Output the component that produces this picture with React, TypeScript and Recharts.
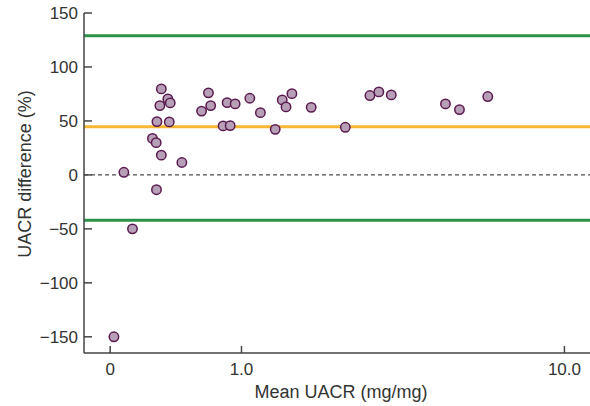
import React from "react";
import { ScatterChart, Scatter, XAxis, YAxis, ReferenceLine } from "recharts";

// mean UACR (mg/mg) and % difference for each sample
const meanUacr = [
  0.02, 0.075, 0.125, 0.25, 0.275, 0.277, 0.28, 0.3, 0.31, 0.31, 0.356, 0.366,
  0.373, 0.46, 0.62, 0.68, 0.7, 0.815, 0.854, 0.884, 0.934, 1.09, 1.21, 1.39,
  1.48, 1.53, 1.61, 1.89, 2.46, 2.94, 3.13, 3.41, 4.87, 5.32, 6.34,
];
const uacrDiff = [
  -150, 2.4, -50, 33.8, 29.9, -13.7, 49.4, 64.2, 18.3, 79.7, 70.4, 49.1, 66.7,
  11.5, 59.1, 76.0, 64.2, 45.4, 67.0, 45.7, 65.8, 71.0, 57.7, 42.2, 69.5, 63.0,
  75.3, 62.6, 44.1, 73.5, 76.9, 74.1, 65.8, 60.5, 72.6,
];

const xTickValues = [0, 1, 10];
const yTickValues = [-150, -100, -50, 0, 50, 100, 150];

const meanDiff = 44.5;
const upperLimit = 128.9;
const lowerLimit = -42.1;

// x axis is log10(1 + mean)
const toAxis = (v: number) => Math.log10(1 + v);

const data = meanUacr.map((m, i) => ({ t: toAxis(m), diff: uacrDiff[i] }));

const AXIS = "#444";
const FONT = "'Liberation Sans', Arial, sans-serif";

const XTick = (props: any) => {
  const { x, y, payload } = props;
  const m = Math.pow(10, payload.value) - 1;
  const label = m < 0.5 ? "0" : m.toFixed(1);
  return (
    <g>
      <line x1={x} x2={x} y1={y} y2={y - 7} stroke={AXIS} strokeWidth={1.5} />
      <text x={x} y={y + 22} textAnchor="middle" fill="#333" fontSize={17} fontFamily={FONT}>
        {label}
      </text>
    </g>
  );
};

const YTick = (props: any) => {
  const { x, y, payload } = props;
  const v = payload.value;
  const label = v < 0 ? "\u2212" + Math.abs(v) : String(v);
  return (
    <g>
      <line x1={x} x2={x + 8} y1={y} y2={y} stroke={AXIS} strokeWidth={1.5} />
      <text x={x - 6} y={y + 6} textAnchor="end" fill="#333" fontSize={17} fontFamily={FONT}>
        {label}
      </text>
    </g>
  );
};

const Dot = (props: any) => (
  <circle cx={props.cx} cy={props.cy} r={4.7} fill="#b79fb7" stroke="#5b1a4f" strokeWidth={1.5} />
);

export default function App() {
  return (
    <div style={{ position: "absolute", left: 0, top: 0 }}>
      <ScatterChart width={590} height={406} margin={{ top: 13, right: 0, bottom: 0, left: 0 }}>
        <XAxis
          type="number"
          dataKey="t"
          domain={[-0.06, 1.1]}
          allowDataOverflow
          ticks={xTickValues.map(toAxis)}
          interval={0}
          tick={<XTick />}
          tickLine={false}
          tickSize={0}
          tickMargin={0}
          height={53}
          axisLine={{ stroke: AXIS, strokeWidth: 1.5 }}
          label={{
            value: "Mean UACR (mg/mg)",
            position: "insideBottom",
            offset: 8,
            dx: 4,
            fill: "#333",
            fontSize: 18,
            fontFamily: FONT,
          }}
        />
        <YAxis
          type="number"
          dataKey="diff"
          domain={[-165, 150]}
          allowDataOverflow
          ticks={yTickValues}
          interval={0}
          tick={<YTick />}
          tickLine={false}
          tickSize={0}
          tickMargin={0}
          width={84}
          axisLine={{ stroke: AXIS, strokeWidth: 1.5 }}
          label={{
            content: () => (
              <text
                x={31}
                y={174}
                transform="rotate(-90 31 174)"
                textAnchor="middle"
                fill="#333"
                fontSize={18}
                fontFamily={FONT}
              >
                UACR difference (%)
              </text>
            ),
          }}
        />
        <ReferenceLine y={0} stroke="#222" strokeWidth={1} strokeDasharray="4 3" />
        <ReferenceLine y={upperLimit} stroke="#2a9248" strokeWidth={3} />
        <ReferenceLine y={lowerLimit} stroke="#2a9248" strokeWidth={3} />
        <ReferenceLine y={meanDiff} stroke="#f7b733" strokeWidth={3} />
        <Scatter data={data} shape={<Dot />} isAnimationActive={false} />
      </ScatterChart>
    </div>
  );
}
